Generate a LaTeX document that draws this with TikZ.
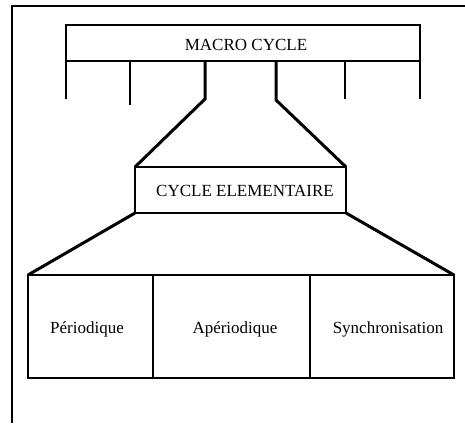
\documentclass[tikz,border=0pt]{standalone}
\usepackage{fontspec}
\setmainfont{Liberation Serif}
\begin{document}
\begin{tikzpicture}[x=1pt,y=-1pt,
  box/.style={draw,line width=2.3pt,line join=miter,inner sep=0pt,outer sep=0pt},
  leg/.style={line width=3pt,line join=miter},
  frameline/.style={line width=1.8pt},
  lbl/.style={font=\fontsize{17}{17}\selectfont,inner sep=0pt}]
\useasboundingbox (0,0) rectangle (465,423);
% frame
\coordinate (fTL) at (12,6);
\coordinate (fTR) at (465,6);
\coordinate (fBL) at (12,423);
\draw[frameline] (fBL) -- (fTL) -- (fTR);
% macro cycle box
\node[box,minimum width=354pt,minimum height=36pt] (macro) at (243,43) {};
\node[lbl] (macrot) at (246,45) {MACRO CYCLE};
% ticks
\coordinate (t1) at (66,99);
\coordinate (t2) at (130,105);
\coordinate (t5) at (345,99);
\coordinate (t6) at (420,99);
\draw[box] (macro.south west) -- (t1);
\draw[box] (macro.south east) -- (t6);
\draw[box] (t2 |- macro.south) -- (t2);
\draw[box] (t5 |- macro.south) -- (t5);
% cycle elementaire box
\node[box,minimum width=211pt,minimum height=46pt] (cycle) at (240.5,190) {};
\node[lbl] (cyclet) at (245,191) {CYCLE ELEMENTAIRE};
% legs from macro to cycle
\coordinate (l1) at (205,99);
\coordinate (l2) at (276,100);
\draw[leg] (l1 |- macro.south) -- (l1) -- (cycle.north west);
\draw[leg] (l2 |- macro.south) -- (l2) -- (cycle.north east);
% bottom boxes
\node[box,minimum width=125pt,minimum height=103pt] (per) at (90.5,326.5) {};
\node[box,minimum width=157pt,minimum height=103pt] (aper) at (231.5,326.5) {};
\node[box,minimum width=144pt,minimum height=103pt] (sync) at (382,326.5) {};
\node[lbl] (pert) at (87,329) {Périodique};
\node[lbl] (apert) at (235,329) {Apériodique};
\node[lbl] (synct) at (388,329) {Synchronisation};
% trapezoid legs
\draw[leg] (cycle.south west) -- (per.north west);
\draw[leg] (cycle.south east) -- (sync.north east);
\end{tikzpicture}
\end{document}
